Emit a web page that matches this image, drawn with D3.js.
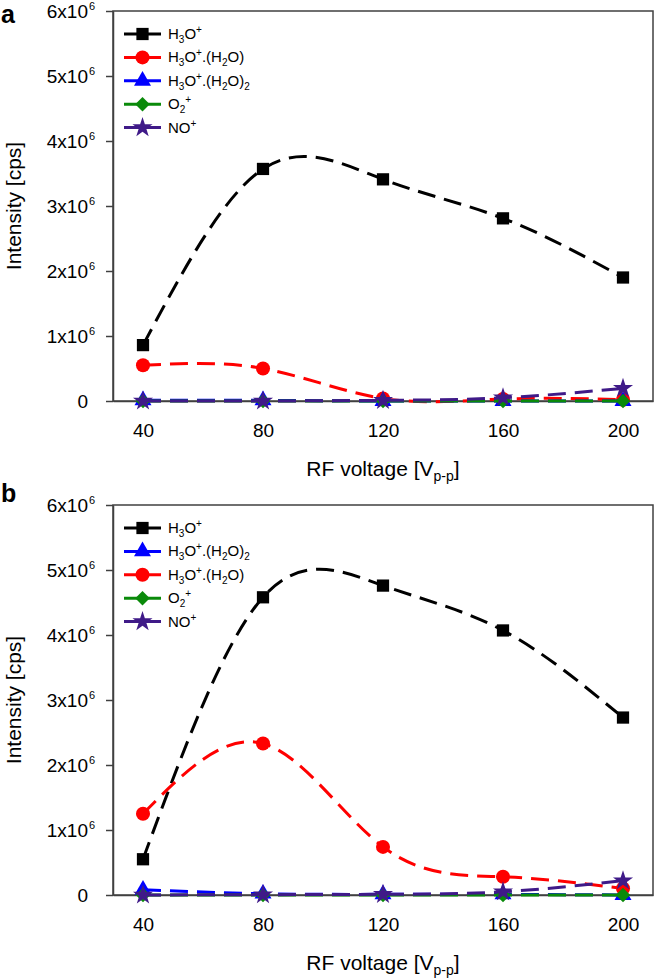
<!DOCTYPE html>
<html><head><meta charset="utf-8">
<script src="https://cdn.jsdelivr.net/npm/d3@7"></script>
<style>
html,body{margin:0;padding:0;background:#fff;}
text{font-family:Arial,"Liberation Sans",sans-serif;}
</style></head>
<body>
<svg id="chart" width="657" height="980"></svg>
<script>
// ---------- data ----------
const rfVoltage = [40, 80, 120, 160, 200];
const xTickValues = [40, 80, 120, 160, 200];
const yTickValues = [0, 1e6, 2e6, 3e6, 4e6, 5e6, 6e6];
const yTickLabels = ["0", "1x10", "2x10", "3x10", "4x10", "5x10", "6x10"];
const yTickExponents = ["", "6", "6", "6", "6", "6", "6"];

// panel a
const a_H3O = [860000, 3570000, 3410000, 2810000, 1900000];
const a_H3O_H2O = [550000, 500000, 40000, 30000, 20000];
const a_H3O_H2O2 = [10000, 10000, 0, 0, 0];
const a_O2 = [0, 0, 0, 0, 0];
const a_NO = [0, 0, 10000, 50000, 195000];

// panel b
const b_H3O = [550000, 4580000, 4760000, 4070000, 2730000];
const b_H3O_H2O2 = [80000, 20000, 10000, 10000, 0];
const b_H3O_H2O = [1250000, 2330000, 740000, 280000, 100000];
const b_O2 = [0, 0, 0, 0, 0];
const b_NO = [0, 5000, 10000, 50000, 220000];

// legend labels as [text, kind] segments
const lblH3O = [["H",""],["3","sub"],["O",""],["+","sup"]];
const lblH3O_H2O = [["H",""],["3","sub"],["O",""],["+","sup"],[".(H",""],["2","sub"],["O)",""]];
const lblH3O_H2O2 = [["H",""],["3","sub"],["O",""],["+","sup"],[".(H",""],["2","sub"],["O)",""],["2","sub"]];
const lblO2 = [["O",""],["2","sub"],["+","sup"]];
const lblNO = [["NO",""],["+","sup"]];

const colors = {H3O:"#000000", H2O:"#ff0000", H2O2:"#0000ff", O2:"#0a8a0a", NO:"#3f1a88"};

const panels = [
  {letter:"a", top:11, series:[
    {key:"H3O", values:a_H3O, label:lblH3O, sym:"square"},
    {key:"H2O", values:a_H3O_H2O, label:lblH3O_H2O, sym:"circle"},
    {key:"H2O2", values:a_H3O_H2O2, label:lblH3O_H2O2, sym:"triangle"},
    {key:"O2", values:a_O2, label:lblO2, sym:"diamond"},
    {key:"NO", values:a_NO, label:lblNO, sym:"star"}
  ]},
  {letter:"b", top:505, series:[
    {key:"H3O", values:b_H3O, label:lblH3O, sym:"square"},
    {key:"H2O2", values:b_H3O_H2O2, label:lblH3O_H2O2, sym:"triangle"},
    {key:"H2O", values:b_H3O_H2O, label:lblH3O_H2O, sym:"circle"},
    {key:"O2", values:b_O2, label:lblO2, sym:"diamond"},
    {key:"NO", values:b_NO, label:lblNO, sym:"star"}
  ]}
];

// ---------- drawing ----------
const svg = d3.select("#chart");
const left = 113, right = 653, plotH = 390;
const frameColor = "#404040";

const symbolGen = {
  square: d3.symbol().type(d3.symbolSquare).size(150),
  circle: d3.symbol().type(d3.symbolCircle).size(155),
  triangle: d3.symbol().type(d3.symbolTriangle).size(125),
  diamond: d3.symbol().type(d3.symbolSquare).size(105),
  star: d3.symbol().type(d3.symbolStar).size(125)
};
function drawSymbol(g, sym, x, y, color) {
  g.append("path")
    .attr("d", symbolGen[sym]())
    .attr("transform", `translate(${x},${y})` + (sym === "diamond" ? " rotate(45)" : ""))
    .attr("fill", color);
}
function writeLabel(textSel, segs) {
  let shift = 0;
  segs.forEach(([t, kind]) => {
    let target = 0, fs = null;
    if (kind === "sub") { target = 4; fs = 10; }
    else if (kind === "sup") { target = -6; fs = 10; }
    const ts = textSel.append("tspan").text(t).attr("dy", target - shift);
    if (fs) ts.attr("font-size", fs);
    shift = target;
  });
}

panels.forEach(p => {
  const top = p.top, bottom = top + plotH;
  const x = d3.scaleLinear().domain([30, 210]).range([left, right]);
  const y = d3.scaleLinear().domain([0, 6e6]).range([bottom, top]);
  const g = svg.append("g");

  // frame
  g.append("rect").attr("x", left).attr("y", top).attr("width", right - left).attr("height", plotH)
    .attr("fill", "none").attr("stroke", frameColor).attr("stroke-width", 1.5);

  // y axis
  const yAxis = d3.axisLeft(y).tickValues(yTickValues).tickSize(7).tickSizeOuter(0).tickPadding(18)
    .tickFormat((d, i) => yTickLabels[i]);
  const yg = g.append("g").attr("transform", `translate(${left},0)`).call(yAxis);
  yg.select(".domain").attr("stroke", frameColor).attr("stroke-width", 1.5);
  yg.selectAll(".tick line").attr("stroke", frameColor).attr("stroke-width", 1.5);
  yg.selectAll(".tick text").attr("font-size", 19).attr("fill", "#000")
    .attr("font-family", 'Arial,"Liberation Sans",sans-serif');
  yg.selectAll(".tick").each(function(d, i) {
    if (yTickExponents[i]) {
      d3.select(this).append("text").attr("x", -24).attr("y", -2).attr("font-size", 11)
        .attr("fill", "#000").attr("text-anchor", "start").text(yTickExponents[i]);
    }
  });

  // x axis
  const xAxis = d3.axisBottom(x).tickValues(xTickValues).tickSize(0).tickSizeOuter(0).tickPadding(23)
    .tickFormat(d3.format("d"));
  const xg = g.append("g").attr("transform", `translate(0,${bottom})`).call(xAxis);
  xg.select(".domain").attr("stroke", frameColor).attr("stroke-width", 1.5);
  xg.selectAll(".tick text").attr("font-size", 19).attr("fill", "#000")
    .attr("font-family", 'Arial,"Liberation Sans",sans-serif');

  // axis titles
  const xt = g.append("text").attr("x", (left + right) / 2).attr("y", bottom + 75)
    .attr("text-anchor", "middle").attr("font-size", 21);
  xt.append("tspan").text("RF voltage [V");
  xt.append("tspan").text("p-p").attr("font-size", 14).attr("dy", 5);
  xt.append("tspan").text("]").attr("dy", -5);

  g.append("text").attr("transform", `translate(21,${(top + bottom) / 2}) rotate(-90)`)
    .attr("text-anchor", "middle").attr("font-size", 21).text("Intensity [cps]");

  // panel letter
  g.append("text").attr("x", 1).attr("y", top + (p.letter === "a" ? 12 : -3))
    .attr("font-size", 25).attr("font-weight", "bold").text(p.letter);

  // series
  const line = d3.line().x((d, i) => x(rfVoltage[i])).y(d => y(d)).curve(d3.curveNatural);
  p.series.forEach(s => {
    const c = colors[s.key];
    g.append("path").datum(s.values).attr("d", line).attr("fill", "none")
      .attr("stroke", c).attr("stroke-width", 3).attr("stroke-dasharray", "18,9");
    s.values.forEach((v, i) => drawSymbol(g, s.sym, x(rfVoltage[i]), y(v), c));
  });

  // legend
  p.series.forEach((s, i) => {
    const c = colors[s.key];
    const ly = top + 23 + i * 23.4;
    g.append("line").attr("x1", 124).attr("x2", 161).attr("y1", ly).attr("y2", ly)
      .attr("stroke", c).attr("stroke-width", 3);
    drawSymbol(g, s.sym, 142.5, ly, c);
    const t = g.append("text").attr("x", 168).attr("y", ly + 5).attr("font-size", 15).attr("fill", "#000");
    writeLabel(t, s.label);
  });
});
</script>
</body></html>
